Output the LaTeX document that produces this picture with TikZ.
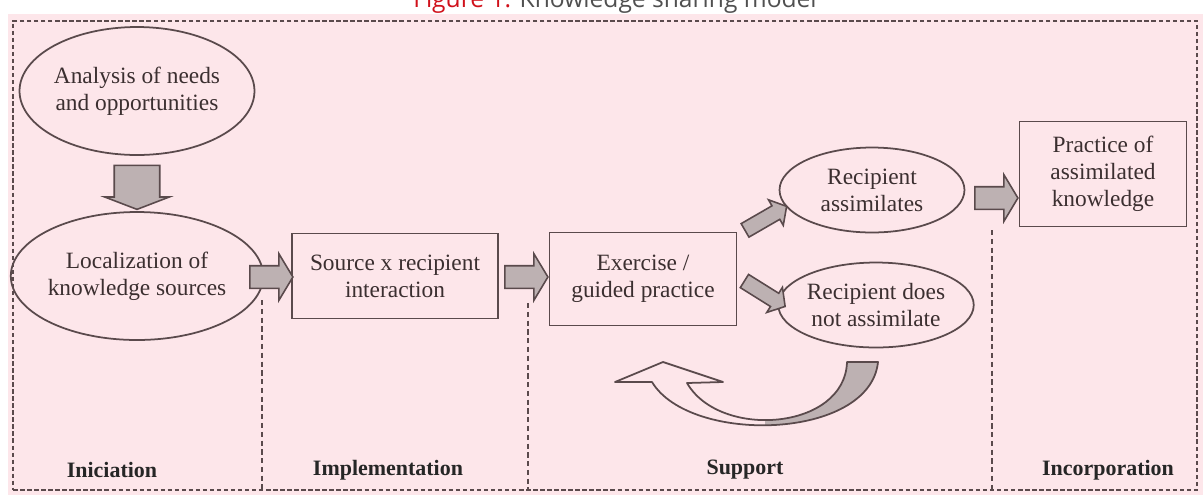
\documentclass[tikz,border=0pt]{standalone}
\usepackage{fontspec}
\setmainfont{Liberation Serif}
\newfontfamily\titlefont{Open Sans}
\usetikzlibrary{shapes.geometric,shapes.arrows,positioning}
\definecolor{bgpink}{HTML}{FDE6EA}
\definecolor{edgegray}{HTML}{5A4A4C}
\definecolor{arrowgray}{HTML}{BDB1B2}
\definecolor{inkgray}{HTML}{3B2F30}
\definecolor{figred}{HTML}{D0111B}
\definecolor{titlegray}{HTML}{505050}

\begin{document}
\begin{tikzpicture}
    [
      x=0.02cm, y=-0.02cm,
      phase/.style={ellipse,draw=edgegray,line width=1pt,inner sep=0pt,align=center,text=inkgray,font=\fontsize{13.3}{15.4}\selectfont},
      activity/.style={rectangle,draw=edgegray,line width=1pt,inner sep=0pt,align=center,text=inkgray,font=\fontsize{13.3}{15.4}\selectfont},
      push/.style={single arrow,draw=edgegray,line width=0.9pt,fill=arrowgray,inner sep=0pt,text depth=0pt},
      stage/.style={text=black!85,font=\bfseries\fontsize{12.5}{15}\selectfont},
      divider/.style={draw=edgegray,line width=1pt,dash pattern=on 3pt off 2pt},
    ]

    \useasboundingbox (0,0) rectangle (1203,495);
    \fill [bgpink] (8,14) rectangle (1203,495);

    \node (fig-title) [anchor=base,font=\titlefont\fontsize{14}{16}\selectfont] at (615,7)
      {\textcolor{figred}{Figure 1.} \textcolor{titlegray}{Knowledge sharing model}};

    \node (frame) [draw=edgegray,line width=1pt,dash pattern=on 2.5pt off 1.5pt,inner sep=0pt,
      minimum width=23.68cm,minimum height=9.38cm] at (605,255.5) {};

    \node (needs) [phase,minimum width=4.18cm,minimum height=2.56cm] at (137,91) {Analysis of needs\\and opportunities};
    \node (sources) [phase,minimum width=4.1cm,minimum height=2.56cm] at (137,276) {Localization of\\knowledge sources};
    \node (interaction) [activity,minimum width=4.12cm,minimum height=1.7cm] at (395,276) {Source x recipient\\interaction};
    \node (exercise) [activity,minimum width=3.74cm,minimum height=1.86cm] at (643,279) {Exercise /\\guided practice};
    \node (assim) [phase,minimum width=3.7cm,minimum height=1.7cm] at (872,190) {Recipient\\assimilates};
    \node (no-assim) [phase,minimum width=3.84cm,minimum height=1.7cm] at (876,305) {Recipient does\\not assimilate};
    \node (practice) [activity,minimum width=3.34cm,minimum height=2.1cm] at (1103,174) {Practice of\\assimilated\\knowledge};

    % block arrows
    \node (push-down) [push,rotate=-90,minimum height=0.88cm,minimum width=1.26cm,text height=0.88cm,
      single arrow head extend=0.19cm,single arrow tip angle=138] at (137,183) {};
    \node (push-1) [push,minimum height=0.86cm,minimum width=0.9cm,text height=0.42cm,
      single arrow head extend=0.24cm,single arrow tip angle=118] at (268,277) {};
    \node (push-2) [push,minimum height=0.86cm,minimum width=0.9cm,text height=0.42cm,
      single arrow head extend=0.24cm,single arrow tip angle=118] at (523,277) {};
    \node (push-3) [push,minimum height=0.86cm,minimum width=0.9cm,text height=0.42cm,
      single arrow head extend=0.24cm,single arrow tip angle=118] at (993,198) {};
    \node (push-up) [push,rotate=30,minimum height=0.96cm,minimum width=0.56cm,text height=0.28cm,
      single arrow head extend=0.14cm,single arrow tip angle=100] at (763,220) {};
    \node (push-low) [push,rotate=-32,minimum height=0.96cm,minimum width=0.56cm,text height=0.28cm,
      single arrow head extend=0.14cm,single arrow tip angle=100] at (762,292) {};

    % loop back arrow
    \begin{scope}
      \clip (765,340) rectangle (900,450);
      \fill [arrowgray] (687,383) .. controls (720,440) and (845,430) .. (847,362)
        -- (878,362) .. controls (870,440) and (690,445) .. (652,382) -- cycle;
    \end{scope}
    \draw [edgegray,line width=1pt,line join=round] (663,362) -- (723,382) -- (687,383)
      .. controls (720,440) and (845,430) .. (847,362) -- (878,362)
      .. controls (870,440) and (690,445) .. (652,382) -- (615,382) -- cycle;

    % phase borders
    \coordinate (cut-1) at (262,300);
    \coordinate (cut-2) at (528,303);
    \coordinate (cut-3) at (992,230);
    \draw [divider] (cut-1) -- (cut-1 |- frame.south);
    \draw [divider] (cut-2) -- (cut-2 |- frame.south);
    \draw [divider] (cut-3) -- (cut-3 |- frame.south);

    \node (st-init) [stage] at (112,470) {Iniciation};
    \node (st-impl) [stage] at (388,470) {Implementation};
    \node (st-supp) [stage] at (745,470) {Support};
    \node (st-inc) [stage] at (1108,470) {Incorporation};

  \end{tikzpicture}
\end{document}
